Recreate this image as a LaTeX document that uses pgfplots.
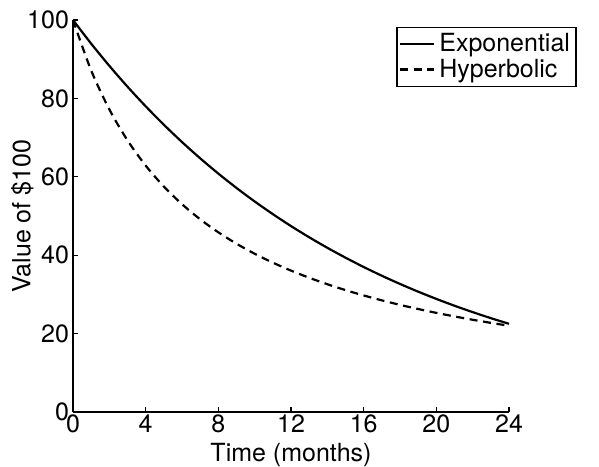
\documentclass[border=0pt]{standalone}
\usepackage{fontspec}
\setmainfont{TeX Gyre Heros}
\usepackage{pgfplots}
\pgfplotsset{compat=1.18}

\begin{document}
\begin{tikzpicture}
\begin{axis}[
    scale only axis,
    width=218pt, height=196pt,
    xmin=0, xmax=24, ymin=0, ymax=100,
    xtick={0,4,8,12,16,20,24},
    ytick={0,20,40,60,80,100},
    axis lines*=left,
    axis line style={line width=0.6pt},
    tick style={black, line width=0.6pt},
    tick align=inside,
    major tick length=2.5pt,
    font=\fontsize{12.5}{14}\selectfont,
    /pgf/number format/assume math mode=true,
    xticklabel style={yshift=2pt},
    yticklabel style={xshift=1.5pt},
    xlabel={Time (months)},
    ylabel={Value of \$100},
    xlabel style={yshift=2pt},
    ylabel style={yshift=-10pt},
    legend style={at={(1.155,0.982)}, anchor=north east,
      draw=black, line width=0.6pt, inner sep=1pt, row sep=-2pt,
      font=\fontsize{12.5}{14}\selectfont},
    legend cell align=left,
    legend image post style={line width=1.1pt},
    legend image code/.code={\draw[#1] (0cm,0cm) -- (0.6cm,0cm);},
    clip=false
  ]
  % exponential discount
  \addplot[black, line width=1.1pt, smooth] coordinates {
    (0,100) (1,93.97) (2,88.31) (3,82.99) (4,77.99) (5,73.29) (6,68.87)
    (7,64.72) (8,60.82) (9,57.16) (10,53.71) (11,50.48) (12,47.43)
    (13,44.58) (14,41.89) (15,39.37) (16,36.99) (17,34.76) (18,32.67)
    (19,30.70) (20,28.85) (21,27.11) (22,25.48) (23,23.94) (24,22.50)
  };
  \addlegendentry{Exponential}
  % hyperbolic discount
  \addplot[black, line width=1.1pt, smooth, dash pattern=on 4pt off 2.8pt] coordinates {
    (0,100) (1,87.13) (2,77.20) (3,69.30) (4,62.86) (5,57.52) (6,53.02)
    (7,49.17) (8,45.84) (9,42.93) (10,40.37) (11,38.10) (12,36.07)
    (13,34.25) (14,32.60) (15,31.10) (16,29.73) (17,28.48) (18,27.33)
    (19,26.27) (20,25.29) (21,24.38) (22,23.53) (23,22.74) (24,22.00)
  };
  \addlegendentry{Hyperbolic}
  \coordinate (o) at (axis cs:0,0);
\end{axis}
\pgfresetboundingbox
\path[use as bounding box] (o) ++(-36.5pt,-27pt) rectangle ++(299.5pt,233pt);
\end{tikzpicture}
\end{document}
